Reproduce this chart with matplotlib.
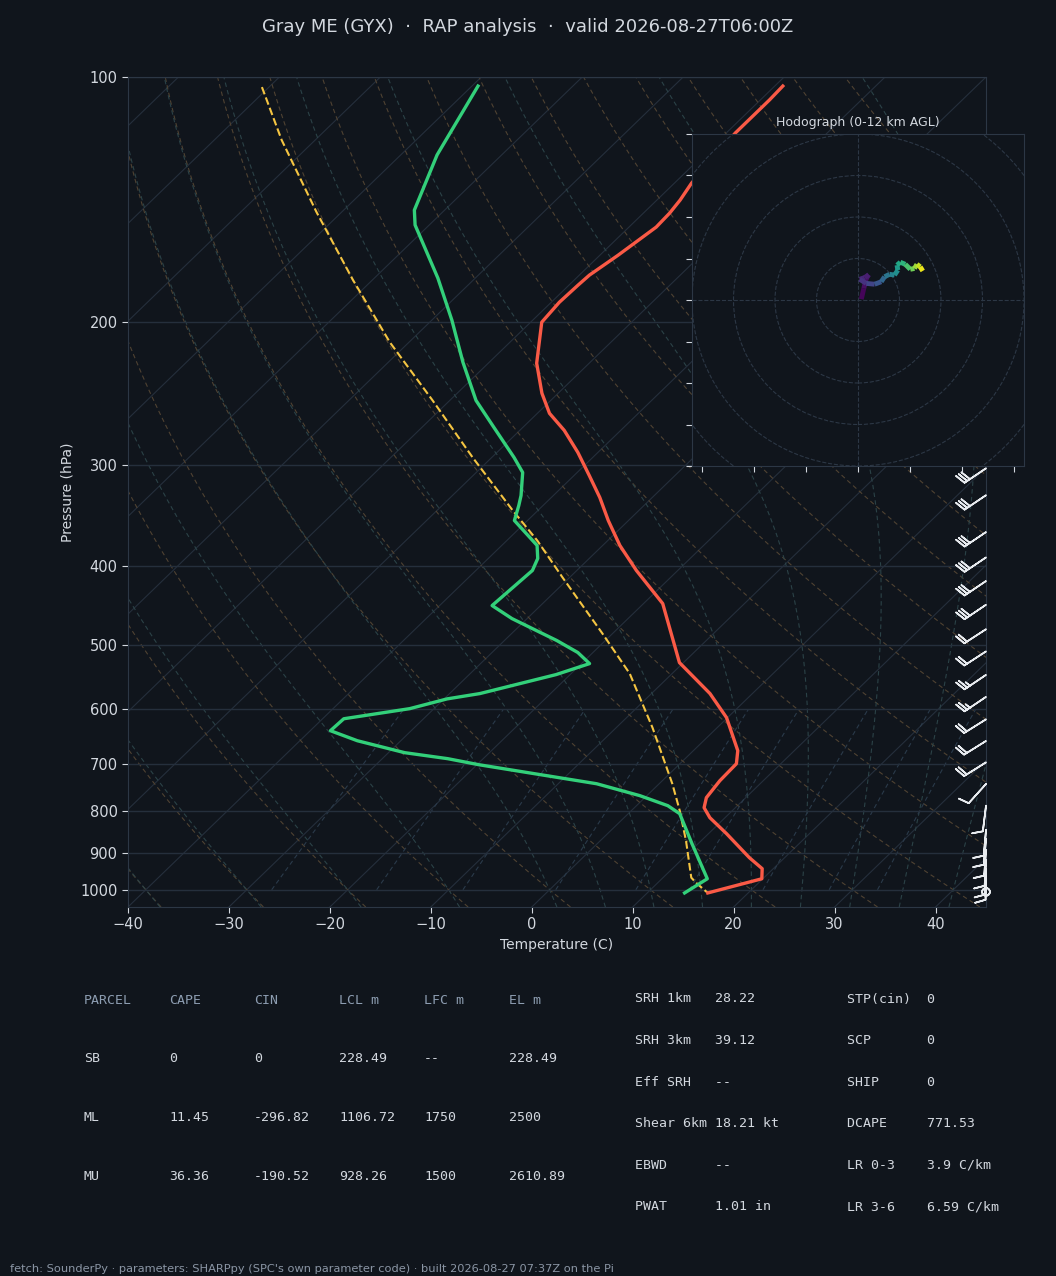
import numpy as np
import matplotlib
matplotlib.use("Agg")
import matplotlib.pyplot as plt
from matplotlib.transforms import Affine2D, blended_transform_factory
from matplotlib.ticker import FixedLocator, NullLocator, ScalarFormatter, NullFormatter
from matplotlib.collections import LineCollection
from matplotlib.patches import Circle

# ---------------- data ----------------
title = "Gray ME (GYX)  \u00b7  RAP analysis  \u00b7  valid 2026-08-27T06:00Z"
footer = ("fetch: SounderPy \u00b7 parameters: SHARPpy (SPC's own parameter code) \u00b7 "
          "built 2026-08-27 07:37Z on the Pi")

temp_p = [102.6, 106.7, 117.2, 135.1, 141.7, 147.1, 153.0, 165.7, 175.3, 180.4, 189.3,
          200.3, 225.0, 245.0, 259.3, 272.1, 289.6, 309.2, 329.1, 351.3, 377.0, 404.7,
          444.5, 525.4, 573.6, 614.0, 674.3, 699.7, 734.2, 770.3, 792.5, 815.3, 853.2,
          913.0, 941.9, 969.3, 1009.0]
temp_c = [-59.2, -59.1, -59.1, -58.3, -57.7, -57.4, -57.3, -58.2, -59.0, -59.1, -59.2,
          -58.9, -55.2, -51.6, -48.8, -45.6, -42.0, -38.5, -35.2, -32.0, -28.3, -24.1,
          -18.1, -10.4, -4.2, -0.1, 4.4, 5.6, 5.7, 6.1, 6.9, 8.5, 11.8,
          16.5, 18.9, 19.9, 16.0]

dew_p = [102.6, 124.7, 145.8, 152.1, 176.8, 199.2, 224.4, 250.0, 270.6, 293.8, 306.6,
         327.3, 336.7, 351.3, 377.0, 391.2, 404.7, 447.0, 463.8, 493.6, 510.6, 526.9,
         543.6, 573.6, 582.3, 598.6, 616.0, 637.2, 655.6, 678.1, 689.8, 701.7, 740.5,
         765.9, 788.0, 806.1, 877.8, 969.3, 1009.0]
dew_c = [-89.4, -86.4, -83.0, -81.4, -73.7, -68.0, -62.6, -57.4, -52.7, -47.8, -45.4,
         -43.2, -42.4, -41.3, -36.5, -35.1, -34.4, -34.8, -31.5, -24.8, -21.5, -19.2,
         -21.4, -27.0, -29.7, -32.4, -37.9, -38.0, -34.3, -28.4, -23.5, -19.8, -6.2,
         -0.7, 3.1, 5.1, 9.4, 14.5, 13.7]

parcel_p = [102.9, 119.6, 146.6, 177.8, 212.0, 250.0, 293.8, 341.4, 371.7, 412.8, 483.9,
            542.0, 631.8, 740.5, 799.3, 870.4, 966.3, 980.4, 1009.0]
parcel_c = [-110.7, -103.3, -92.5, -81.9, -71.9, -61.7, -51.9, -42.5, -37.0, -30.7, -21.0,
            -14.2, -6.4, 1.3, 4.8, 8.5, 12.8, 13.8, 16.0]

barb_p = [210, 232, 255, 279, 303, 327, 363, 390, 417, 446, 478, 509, 544, 579, 617, 656,
          697, 741, 788, 844, 866, 893, 919, 942, 956, 1006]
barb_spd = [30, 30, 30, 30, 30, 30, 30, 30, 30, 30, 20, 20, 25, 25, 20, 20,
            20, 10, 10, 10, 10, 10, 10, 10, 10, 0]
barb_dir = [240, 240, 238, 236, 236, 236, 236, 236, 236, 236, 237, 237, 236, 236, 238, 238,
            238, 222, 187, 185, 185, 184, 183, 182, 181, 180]

hodo_u = [0.8, 1.4, 2.0, 2.6, 1.6, 0.4, 2.0, 4.0, 5.6, 6.4, 7.6, 8.8, 9.6, 9.4, 10.2,
          11.4, 12.6, 13.6, 14.2, 15.0, 15.6]
hodo_v = [0.2, 2.8, 5.2, 6.1, 5.4, 5.0, 4.0, 3.8, 4.4, 5.6, 6.2, 6.0, 7.2, 8.4, 9.1,
          8.6, 7.4, 7.6, 8.6, 8.0, 7.0]
hodo_z = [0.0, 0.3, 0.6, 0.9, 1.1, 1.4, 2.0, 2.8, 3.5, 4.3, 5.0, 5.6, 6.2, 6.8, 7.4,
          8.1, 9.0, 9.8, 10.6, 11.3, 12.0]

parcel_header = ["PARCEL", "CAPE", "CIN", "LCL m", "LFC m", "EL m"]
parcel_rows = [["SB", "0", "0", "228.49", "--", "228.49"],
               ["ML", "11.45", "-296.82", "1106.72", "1750", "2500"],
               ["MU", "36.36", "-190.52", "928.26", "1500", "2610.89"]]

param_left_names = ["SRH 1km", "SRH 3km", "Eff SRH", "Shear 6km", "EBWD", "PWAT"]
param_left_vals = ["28.22", "39.12", "--", "18.21 kt", "--", "1.01 in"]
param_right_names = ["STP(cin)", "SCP", "SHIP", "DCAPE", "LR 0-3", "LR 3-6"]
param_right_vals = ["0", "0", "0", "771.53", "3.9 C/km", "6.59 C/km"]

# ---------------- style ----------------
BG = '#10151c'
SPINE = '#2c3745'
TXT = '#d3d8df'
HDR = '#8d9db1'
ISO = '#252f3c'
DRY = '#4f4232'
MOIST = '#2b4247'
MIX = '#2a3a4a'
RED = '#fa5a46'
GREEN = '#33d07a'
YEL = '#f5c542'

W, H = 1056, 1276
fig = plt.figure(figsize=(W / 100, H / 100), dpi=100, facecolor=BG)

def fx(px):
    return px / W

def fy(py):
    return 1 - py / H

# ---------------- Skew-T axes ----------------
ax = fig.add_axes([fx(128), fy(907), fx(986) - fx(128), fy(77) - fy(907)])
ax.set_facecolor(BG)
ax.set_yscale('log')
PBOT, PTOP = 1050, 100
ax.set_xlim(-40, 45)
ax.set_ylim(PBOT, PTOP)
skew = ax.transScale + ax.transLimits + Affine2D().skew_deg(45, 0) + ax.transAxes

pgrid = np.geomspace(PBOT, PTOP, 120)

# isotherms
for t in range(-140, 50, 10):
    ax.plot([t, t], [PBOT, PTOP], color=ISO, lw=0.8, transform=skew, zorder=1)

# dry adiabats
for th in range(-40, 160, 10):
    tk = (th + 273.15) * (pgrid / 1000.0) ** 0.2857
    ax.plot(tk - 273.15, pgrid, color=DRY, lw=0.8, ls=(0, (4, 3)), transform=skew, zorder=1)

# moist adiabats (pseudo-adiabatic integration)
Rd, Cp, Lv, eps = 287.04, 1005.7, 2.501e6, 0.622

def dtdp(T, p):
    es = 6.112 * np.exp(17.67 * (T - 273.15) / (T - 29.65))
    rs = eps * es / (p - es)
    num = (Rd * T + Lv * rs) / p
    den = Cp + (Lv * Lv * rs * eps) / (Rd * T * T)
    return num / den

def moist_profile(t0c, plevs):
    out = []
    for ptarget in plevs:
        T = t0c + 273.15
        p = 1000.0
        n = 60
        h = (ptarget - p) / n
        for _ in range(n):
            k1 = dtdp(T, p)
            k2 = dtdp(T + 0.5 * h * k1, p + 0.5 * h)
            k3 = dtdp(T + 0.5 * h * k2, p + 0.5 * h)
            k4 = dtdp(T + h * k3, p + h)
            T = T + h / 6 * (k1 + 2 * k2 + 2 * k3 + k4)
            p = p + h
        out.append(T - 273.15)
    return np.array(out)

pm = np.geomspace(PBOT, PTOP, 50)
for t0 in list(range(-40, 0, 10)) + list(range(0, 46, 5)):
    ax.plot(moist_profile(t0, pm), pm, color=MOIST, lw=0.8, ls=(0, (4, 3)),
            transform=skew, zorder=1)

# mixing ratio lines
pw = np.linspace(1000, 600, 30)
for w in [0.0004, 0.001, 0.002, 0.004, 0.007, 0.01, 0.016, 0.024, 0.032]:
    e = w * pw / (eps + w)
    lnr = np.log(e / 6.112)
    td = 243.5 * lnr / (17.67 - lnr)
    ax.plot(td, pw, color=MIX, lw=0.8, ls=(0, (4, 3)), transform=skew, zorder=1)

# profiles
ax.plot(parcel_c, parcel_p, color=YEL, lw=1.5, ls='--', transform=skew, zorder=4)
ax.plot(temp_c, temp_p, color=RED, lw=2.4, transform=skew, zorder=5)
ax.plot(dew_c, dew_p, color=GREEN, lw=2.4, transform=skew, zorder=5)

# wind barbs at right edge
bd = np.radians(barb_dir)
bs = np.array(barb_spd, dtype=float)
bu = -bs * np.sin(bd)
bv = -bs * np.cos(bd)
btrans = blended_transform_factory(ax.transAxes, ax.transData)
ax.barbs(np.ones(len(barb_p)), barb_p, bu, bv, transform=btrans, clip_on=False,
         length=6.1, color='#e8ebef', linewidth=1.2, zorder=6)

ax.set_xlim(-40, 45)
ax.set_ylim(PBOT, PTOP)

# axes styling
ax.yaxis.set_major_locator(FixedLocator(list(range(100, 1001, 100))))
ax.yaxis.set_major_formatter(ScalarFormatter())
ax.yaxis.set_minor_locator(NullLocator())
ax.yaxis.set_minor_formatter(NullFormatter())
ax.xaxis.set_major_locator(FixedLocator(list(range(-40, 41, 10))))
ax.grid(axis='y', color=ISO, lw=1.0, zorder=0)
for s in ax.spines.values():
    s.set_color(SPINE)
ax.tick_params(colors=TXT, labelsize=10.5, length=4, color=TXT)
ax.set_ylabel('Pressure (hPa)', color=TXT, fontsize=10)
ax.set_xlabel('Temperature (C)', color=TXT, fontsize=10)

# ---------------- hodograph ----------------
hax = fig.add_axes([fx(692), fy(466), fx(1024) - fx(692), fy(134) - fy(466)])
hax.set_facecolor(BG)
hax.set_zorder(10)
hax.set_xlim(-40, 40)
hax.set_ylim(-40, 40)
for r in range(10, 70, 10):
    hax.add_patch(Circle((0, 0), r, fill=False, ls='--', lw=0.8, color=SPINE))
hax.axhline(0, color=SPINE, ls='--', lw=0.8)
hax.axvline(0, color=SPINE, ls='--', lw=0.8)
pts = np.column_stack([hodo_u, hodo_v]).reshape(-1, 1, 2)
segs = np.concatenate([pts[:-1], pts[1:]], axis=1)
zmid = 0.5 * (np.array(hodo_z[:-1]) + np.array(hodo_z[1:]))
lc = LineCollection(segs, cmap='viridis', linewidths=3.5)
lc.set_array(zmid)
lc.set_clim(0, 12)
hax.add_collection(lc)
hax.set_xticks(np.arange(-37.5, 38, 12.5))
hax.set_yticks(np.arange(-40, 41, 10))
hax.tick_params(labelbottom=False, labelleft=False, color=TXT, length=4)
for s in hax.spines.values():
    s.set_color(SPINE)
hax.set_title('Hodograph (0-12 km AGL)', color=TXT, fontsize=9, pad=6)

# ---------------- title / tables / footer ----------------
fig.text(0.5, fy(27), title, ha='center', va='center', color=TXT, fontsize=13)

mono = 'DejaVu Sans Mono'
for j, htxt in enumerate(parcel_header):
    fig.text(fx(84 + 85 * j), fy(1000), htxt, family=mono, fontsize=9.5, color=HDR,
             va='center', ha='left')
for i, row in enumerate(parcel_rows):
    for j, cell in enumerate(row):
        fig.text(fx(84 + 85 * j), fy(1058.5 + 58.8 * i), cell, family=mono, fontsize=9.5,
                 color=TXT, va='center', ha='left')

for i in range(len(param_left_names)):
    yy = fy(999 + 41.6 * i)
    fig.text(fx(635), yy, f"{param_left_names[i]:<10}{param_left_vals[i]}", family=mono,
             fontsize=9.5, color=TXT, va='center', ha='left')
    fig.text(fx(847), yy, f"{param_right_names[i]:<10}{param_right_vals[i]}", family=mono,
             fontsize=9.5, color=TXT, va='center', ha='left')

fig.text(fx(10), fy(1269), footer, fontsize=8.2, color='#8b96a5', va='center', ha='left')

fig.savefig('out.png', dpi=100, facecolor=BG)
